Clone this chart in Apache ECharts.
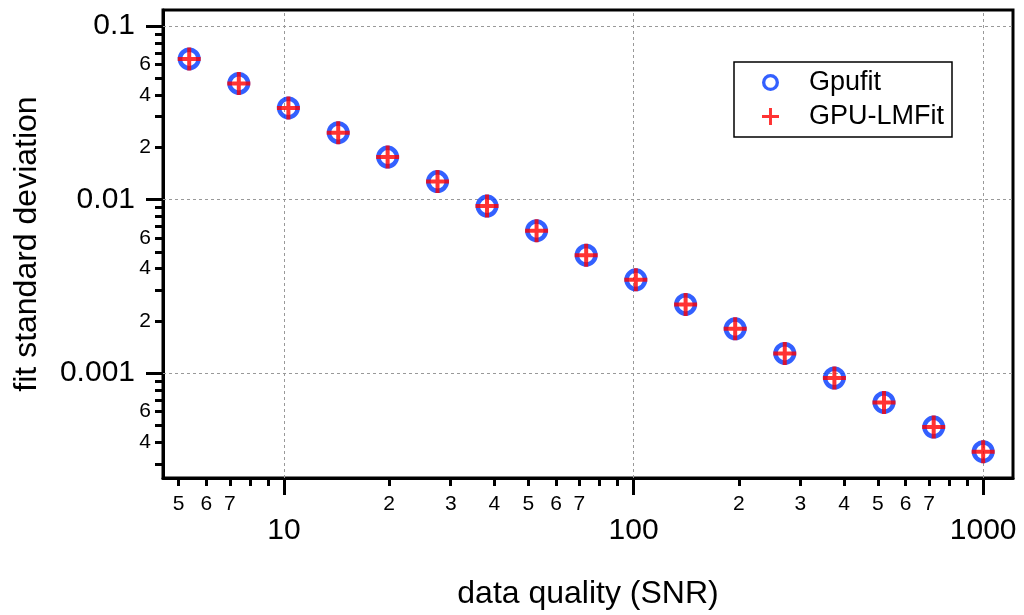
<!DOCTYPE html>
<html>
<head>
<meta charset="utf-8">
<script src="https://cdn.jsdelivr.net/npm/echarts@6/dist/echarts.min.js"></script>
<style>
  html, body { margin: 0; padding: 0; background: #fff; }
  #chart { width: 1024px; height: 615px; }
</style>
</head>
<body>
<div id="chart"></div>
<script>
// data (log-log)
const snr = [5.36, 7.43, 10.3, 14.3, 19.8, 27.5, 38.1, 52.8, 73.2, 101.5, 140.9, 195.3, 270.7, 375.4, 520.4, 721.9, 1000];
const gpufitStd = [0.0646, 0.0467, 0.0337, 0.0243, 0.01757, 0.01269, 0.00917, 0.00662, 0.00478, 0.00345, 0.00249, 0.0018, 0.0013, 0.000938, 0.000678, 0.000489, 0.000353];
const lmfitStd = [0.0646, 0.0467, 0.0337, 0.0243, 0.01757, 0.01269, 0.00917, 0.00662, 0.00478, 0.00345, 0.00249, 0.0018, 0.0013, 0.000938, 0.000678, 0.000489, 0.000353];

// axis ranges and ticks
const xRange = [4.51, 1217];
const yRange = [0.000249, 0.1236];
const xMajorTicks = [10, 100, 1000];
const xMinorTicks = [5, 6, 7, 8, 9, 20, 30, 40, 50, 60, 70, 80, 90, 200, 300, 400, 500, 600, 700, 800, 900];
const xMinorLabels = [5, 6, 7, 20, 30, 40, 50, 60, 70, 200, 300, 400, 500, 600, 700];
const yMajorTicks = [0.001, 0.01, 0.1];
const yMajorLabels = ['0.001', '0.01', '0.1'];
const yMinorTicks = [0.0003, 0.0004, 0.0005, 0.0006, 0.0007, 0.0008, 0.0009,
                     0.002, 0.003, 0.004, 0.005, 0.006, 0.007, 0.008, 0.009,
                     0.02, 0.03, 0.04, 0.05, 0.06, 0.07, 0.08, 0.09];
const yMinorLabels = [0.0004, 0.0006, 0.002, 0.004, 0.006, 0.02, 0.04, 0.06];

const lg = Math.log10;
const FONT = '"Liberation Sans", Arial, sans-serif';
const BLUE = '#0038ff';
const RED = '#ff0000';

// ring and plus markers
const ringPath = 'path://M0,11.5a11.5,11.5 0 1,0 23,0a11.5,11.5 0 1,0 -23,0Z M4.5,11.5a7,7 0 1,1 14,0a7,7 0 1,1 -14,0Z';
const plusPath = 'path://M9.5,0H13.5V9.5H23V13.5H13.5V23H9.5V13.5H0V9.5H9.5Z';

function leadDigit(v) {
  const e = Math.floor(v + 1e-9);
  return String(Math.round(Math.pow(10, v - e)));
}

const black = { color: '#000', width: 3 };

const chart = echarts.init(document.getElementById('chart'));
chart.setOption({
  animation: false,
  textStyle: { fontFamily: FONT },
  grid: { left: 163, right: 11, top: 10, bottom: 136, show: true, borderColor: '#000', borderWidth: 3, backgroundColor: '#fff' },
  legend: {
    orient: 'vertical',
    left: 734, top: 62,
    padding: [7, 8, 7, 28],
    itemGap: 7,
    itemWidth: 17, itemHeight: 17,
    borderColor: '#000', borderWidth: 1.5,
    backgroundColor: '#fff',
    selectedMode: false,
    textStyle: { fontSize: 27, color: '#000', fontFamily: FONT, padding: [0, 0, 0, 25] },
    data: [
      { name: 'Gpufit', icon: ringPath },
      { name: 'GPU-LMFit', icon: plusPath }
    ]
  },
  xAxis: [
    {
      type: 'value', position: 'bottom',
      min: lg(xRange[0]), max: lg(xRange[1]),
      axisLine: { show: true, lineStyle: black },
      axisTick: { show: true, customValues: xMinorTicks.map(lg), length: 8, lineStyle: black },
      axisLabel: { customValues: xMinorLabels.map(lg), formatter: leadDigit, fontSize: 21, color: '#000', margin: 16 },
      splitLine: { show: false },
      name: 'data quality (SNR)', nameLocation: 'middle', nameGap: 100,
      nameTextStyle: { fontSize: 32, color: '#000' }
    },
    {
      type: 'value', position: 'bottom',
      min: lg(xRange[0]), max: lg(xRange[1]),
      axisLine: { show: false },
      axisTick: { show: true, customValues: xMajorTicks.map(lg), length: 17, lineStyle: black },
      axisLabel: { customValues: xMajorTicks.map(lg), formatter: v => String(Math.round(Math.pow(10, v))), fontSize: 30, color: '#000', margin: 38 },
      splitLine: { show: false }
    }
  ],
  yAxis: [
    {
      type: 'value', position: 'left',
      min: lg(yRange[0]), max: lg(yRange[1]),
      axisLine: { show: true, lineStyle: black },
      axisTick: { show: true, customValues: yMinorTicks.map(lg), length: 8, lineStyle: black },
      axisLabel: { customValues: yMinorLabels.map(lg), formatter: leadDigit, fontSize: 21, color: '#000', margin: 12 },
      splitLine: { show: false },
      name: 'fit standard deviation', nameLocation: 'middle', nameGap: 120,
      nameTextStyle: { fontSize: 32, color: '#000' }
    },
    {
      type: 'value', position: 'left',
      min: lg(yRange[0]), max: lg(yRange[1]),
      axisLine: { show: false },
      axisTick: { show: true, customValues: yMajorTicks.map(lg), length: 17, lineStyle: black },
      axisLabel: {
        customValues: yMajorTicks.map(lg),
        formatter: v => yMajorLabels[yMajorTicks.findIndex(t => Math.abs(lg(t) - v) < 1e-6)],
        fontSize: 30, color: '#000', margin: 28
      },
      splitLine: { show: false }
    }
  ],
  series: [
    {
      name: 'Gpufit', type: 'scatter',
      symbol: ringPath, symbolSize: 23,
      itemStyle: { color: BLUE },
      data: snr.map((x, i) => [lg(x), lg(gpufitStd[i])]),
      z: 3,
      markLine: {
        silent: true, z: 1,
        symbol: ['none', 'none'],
        label: { show: false },
        lineStyle: { color: '#999', type: [3, 3], width: 1 },
        data: xMajorTicks.map(v => ({ xAxis: lg(v) })).concat(yMajorTicks.map(v => ({ yAxis: lg(v) })))
      }
    },
    {
      name: 'GPU-LMFit', type: 'scatter',
      symbol: plusPath, symbolSize: 23,
      itemStyle: { color: RED },
      data: snr.map((x, i) => [lg(x), lg(lmfitStd[i])]),
      z: 4
    }
  ]
});
</script>
</body>
</html>
